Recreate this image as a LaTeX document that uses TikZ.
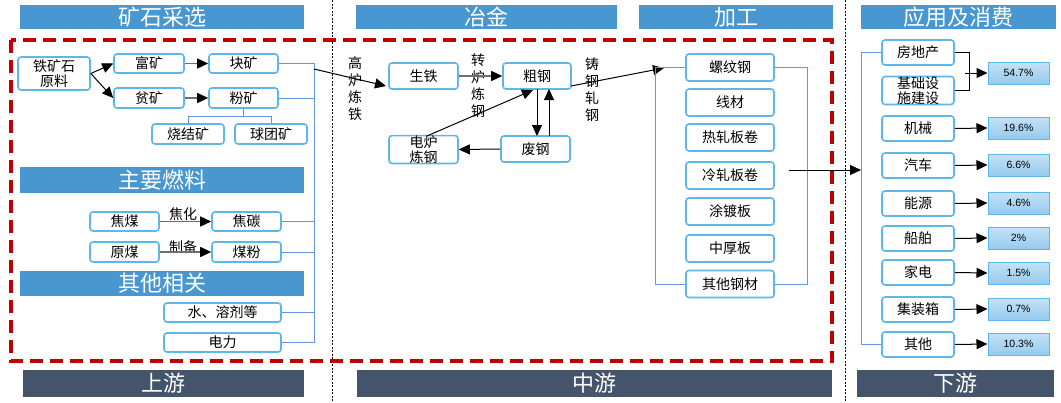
\documentclass[tikz,border=0pt]{standalone}
\usepackage{fontspec}
\setmainfont{Liberation Sans}
\newfontfamily\cjk{Noto Sans CJK SC}
\usetikzlibrary{arrows.meta}
\definecolor{boxc}{RGB}{93,183,232}
\definecolor{hdrc}{RGB}{72,151,208}
\definecolor{ftrc}{RGB}{68,84,106}
\definecolor{redc}{RGB}{192,0,0}
\definecolor{linec}{RGB}{100,150,220}
\definecolor{pcta}{RGB}{196,226,246}
\definecolor{pctb}{RGB}{150,202,238}
\definecolor{grayl}{RGB}{110,110,110}
\begin{document}
\begin{tikzpicture}[x=1pt,y=-1pt,
  box/.style={draw=boxc, line width=1.6pt, rounded corners=3pt, fill=white, inner sep=0pt,
    font=\cjk\fontsize{14}{15}\selectfont, align=center},
  hdr/.style={fill=hdrc, text=white, inner sep=0pt, font=\cjk\fontsize{22}{24}\selectfont},
  ftr/.style={fill=ftrc, text=white, inner sep=0pt, font=\cjk\fontsize{22}{24}\selectfont},
  pct/.style={draw=boxc, line width=1pt, top color=pcta, bottom color=pctb, inner sep=0pt,
    minimum width=61pt, minimum height=22pt, font=\fontsize{10.5}{12}\selectfont},
  vlab/.style={inner sep=0pt, align=center, font=\cjk\fontsize{14}{17}\selectfont},
  lab/.style={inner sep=0pt, font=\cjk\fontsize{14}{15}\selectfont},
  arr/.style={-{Triangle[length=11pt,width=10pt]}, line width=1pt, draw=black},
  garr/.style={-{Triangle[length=11pt,width=10pt,color=black]}, line width=1.4pt, draw=grayl},
  bl/.style={draw=linec, line width=1pt},
  dotv/.style={draw=black, line width=0.8pt, dash pattern=on 2pt off 1.5pt},
]
\useasboundingbox (0,0) rectangle (1061,402);
\fill[white] (0,0) rectangle (1061,402);

% section separators
\draw[dotv] (332,0) -- (332,402);
\draw[dotv] (845,0) -- (845,402);

% headers
\node[hdr, minimum width=284pt, minimum height=24pt] (h1) at (162,17) {矿石采选};
\node[hdr, minimum width=261pt, minimum height=24pt] (h2) at (486.5,17) {冶金};
\node[hdr, minimum width=194pt, minimum height=24pt] (h3) at (736,17) {加工};
\node[hdr, minimum width=195pt, minimum height=24pt] (h4) at (958.5,17) {应用及消费};
\node[hdr, minimum width=284pt, minimum height=26pt] (h5) at (162,180) {主要燃料};
\node[hdr, minimum width=284pt, minimum height=25pt] (h6) at (162,283.5) {其他相关};

% footers
\node[ftr, minimum width=281pt, minimum height=27pt] (f1) at (163.5,383.5) {上游};
\node[ftr, minimum width=475pt, minimum height=27pt] (f2) at (594.5,383.5) {中游};
\node[ftr, minimum width=197pt, minimum height=27pt] (f3) at (955.5,383.5) {下游};

% red dashed frame
\draw[redc, line width=4pt, dash pattern=on 13pt off 7pt] (11,39.5) rectangle (832,361);

% ---------- upstream ----------
\node[box, minimum width=72pt, minimum height=33pt] (ore) at (54,73.5) {铁矿石\\原料};
\node[box, minimum width=70pt, minimum height=19pt] (fu) at (149,63.5) {富矿};
\node[box, minimum width=69pt, minimum height=19pt] (kuai) at (243.5,63.5) {块矿};
\node[box, minimum width=70pt, minimum height=20pt] (pin) at (149,98) {贫矿};
\node[box, minimum width=69pt, minimum height=20pt] (fen) at (243.5,98) {粉矿};
\node[box, minimum width=72pt, minimum height=20pt] (shao) at (188,134) {烧结矿};
\node[box, minimum width=72pt, minimum height=20pt] (qiu) at (271,134) {球团矿};
\node[box, minimum width=69pt, minimum height=19pt] (jiaomei) at (124.5,221.5) {焦煤};
\node[box, minimum width=69pt, minimum height=19pt] (jiaotan) at (246.5,221.5) {焦碳};
\node[box, minimum width=69pt, minimum height=20pt] (yuanmei) at (124.5,252) {原煤};
\node[box, minimum width=69pt, minimum height=20pt] (meifen) at (246.5,252) {煤粉};
\node[box, minimum width=117pt, minimum height=19pt] (shui) at (222.5,312.5) {水、溶剂等};
\node[box, minimum width=117pt, minimum height=19pt] (dianli) at (222.5,342.5) {电力};
\node[lab] (jh) at (183,214) {焦化};
\node[lab] (zb) at (183,247) {制备};

\draw[arr] (ore.east) -- (fu.west);
\draw[arr] (ore.east) -- (pin.west);
\draw[garr] (fu) -- (kuai);
\draw[garr] (pin) -- (fen);
\draw[garr] (jiaomei) -- (jiaotan);
\draw[garr] (yuanmei) -- (meifen);
\draw[bl] (fen.south) -- ++(0,8) coordinate (fenb);
\draw[bl] (shao.north) |- (fenb) -| (qiu.north);

\coordinate (busT) at (314,63.5);
\coordinate (busB) at (314,342.5);
\draw[bl] (kuai.east) -- (busT) -- (busB) -- (dianli.east);
\draw[bl] (fen.east) -- (fen.east -| busT);
\draw[bl] (jiaotan.east) -- (jiaotan.east -| busT);
\draw[bl] (meifen.east) -- (meifen.east -| busT);
\draw[bl] (shui.east) -- (shui.east -| busT);

% ---------- metallurgy ----------
\node[box, minimum width=69pt, minimum height=26pt] (shengtie) at (423.5,76) {生铁};
\node[box, minimum width=68pt, minimum height=26pt] (cugang) at (537,76) {粗钢};
\node[box, minimum width=69pt, minimum height=25pt] (dianlu) at (423.5,149.5) {\fontsize{14}{15.5}\selectfont 电炉\\炼钢};
\node[box, minimum width=69pt, minimum height=26pt] (feigang) at (535.5,149) {废钢};
\node[vlab] (gl) at (355,89) {高\\炉\\炼\\铁};
\node[vlab] (zl) at (478,85.5) {转\\炉\\炼\\钢};
\node[vlab] (zg) at (592,89.5) {铸\\钢\\轧\\钢};

\coordinate (busA) at (314,69);
\draw[arr] (busA) -- (386,86) coordinate (stin);
\draw[garr] (shengtie) -- (cugang);
\draw[arr] (feigang.west) -- (dianlu.east);
\draw[arr] (537,89) coordinate (c1) -- (537,136) coordinate (c2);
\draw[arr] (549,136) coordinate (c3) -- (549,89) coordinate (c4);
\draw[arr] (427,136) coordinate (d1) -- (533,90) coordinate (d2);
\coordinate (cgout) at (571,86);
\coordinate (lwin) at (664,68);
\draw[arr] (cgout) -- (lwin);

% ---------- processing ----------
\node[box, minimum width=88pt, minimum height=27pt] (luowen) at (730,67.5) {螺纹钢};
\node[box, minimum width=88pt, minimum height=27pt] (xiancai) at (730,102.5) {线材};
\node[box, minimum width=88pt, minimum height=27pt] (rezha) at (730,137.5) {热轧板卷};
\node[box, minimum width=88pt, minimum height=27pt] (lengzha) at (730,175.5) {冷轧板卷};
\node[box, minimum width=88pt, minimum height=27pt] (tudu) at (730,211.5) {涂镀板};
\node[box, minimum width=88pt, minimum height=27pt] (zhonghou) at (730,248.5) {中厚板};
\node[box, minimum width=88pt, minimum height=27pt] (qitagc) at (730,284) {其他钢材};

\draw[bl] (luowen.west) -- (655,67.5) -- (655,284) -- (qitagc.west);
\draw[bl] (luowen.east) -- (807,67.5) -- (807,284) -- (qitagc.east);
\coordinate (pout) at (789,170);
\coordinate (pin2) at (861,170);
\draw[arr] (pout) -- (pin2);

% ---------- downstream ----------
\node[box, minimum width=72pt, minimum height=25pt] (fang) at (918,52.5) {房地产};
\node[box, minimum width=72pt, minimum height=25pt] (jichu) at (918,90.5) {\fontsize{14}{14}\selectfont 基础设\\施建设};
\node[box, minimum width=72pt, minimum height=25pt] (jixie) at (918,128.5) {机械};
\node[box, minimum width=72pt, minimum height=25pt] (qiche) at (918,165.5) {汽车};
\node[box, minimum width=72pt, minimum height=25pt] (nengyuan) at (918,203.5) {能源};
\node[box, minimum width=72pt, minimum height=25pt] (chuanbo) at (918,238.5) {船舶};
\node[box, minimum width=72pt, minimum height=25pt] (jiadian) at (918,272.5) {家电};
\node[box, minimum width=72pt, minimum height=25pt] (jizhuang) at (918,309.5) {集装箱};
\node[box, minimum width=72pt, minimum height=25pt] (qita) at (918,344.5) {其他};

\node[pct] (p1) at (1018.5,73) {54.7\%};
\node[pct] (p2) at (1018.5,128) {19.6\%};
\node[pct] (p3) at (1018.5,165) {6.6\%};
\node[pct] (p4) at (1018.5,203) {4.6\%};
\node[pct] (p5) at (1018.5,238) {2\%};
\node[pct] (p6) at (1018.5,273) {1.5\%};
\node[pct] (p7) at (1018.5,309) {0.7\%};
\node[pct] (p8) at (1018.5,344) {10.3\%};

\draw[bl] (fang.west) -- (861,52.5) -- (861,344.5) -- (qita.west);
\draw[line width=1pt] (fang.east) -- (969,52.5) -- (969,90.5) -- (jichu.east);
\coordinate (fj) at (965,73);
\draw[arr] (fj) -- (p1.west);
\draw[arr] (jixie.east) -- (p2.west);
\draw[arr] (qiche.east) -- (p3.west);
\draw[arr] (nengyuan.east) -- (p4.west);
\draw[arr] (chuanbo.east) -- (p5.west);
\draw[arr] (jiadian.east) -- (p6.west);
\draw[arr] (jizhuang.east) -- (p7.west);
\draw[arr] (qita.east) -- (p8.west);
\end{tikzpicture}
\end{document}
